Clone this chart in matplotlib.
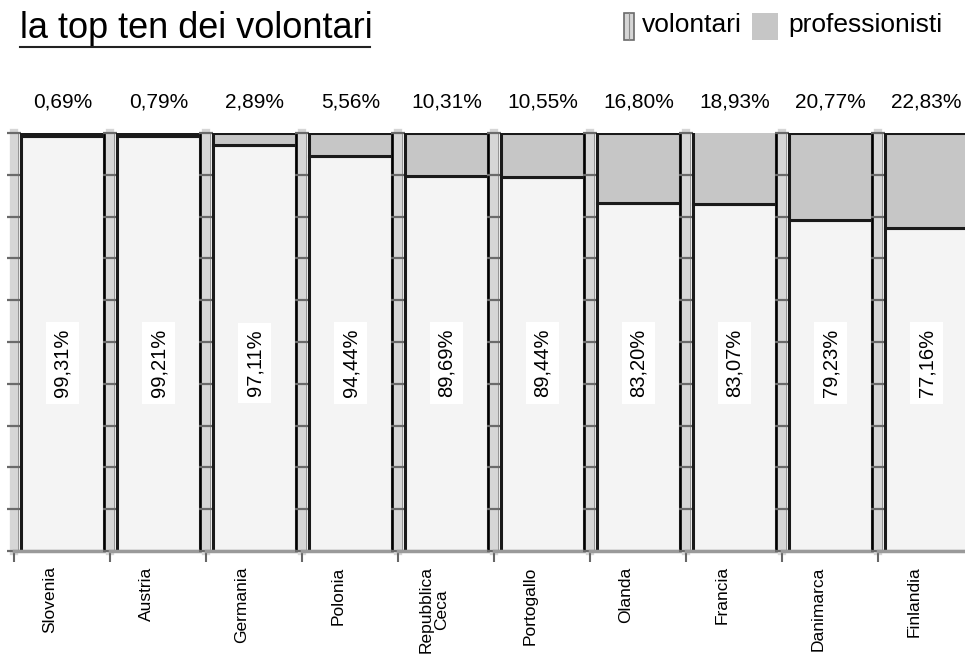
import matplotlib
matplotlib.use('Agg')
import matplotlib.pyplot as plt
from matplotlib.lines import Line2D
from matplotlib.patches import Rectangle

plt.rcParams['font.family'] = ['Liberation Sans', 'DejaVu Sans']

# data
paesi = ['Slovenia', 'Austria', 'Germania', 'Polonia', 'Repubblica\nCeca',
         'Portogallo', 'Olanda', 'Francia', 'Danimarca', 'Finlandia']
volontari = [99.31, 99.21, 97.11, 94.44, 89.69, 89.44, 83.20, 83.07, 79.23, 77.16]
professionisti = [0.69, 0.79, 2.89, 5.56, 10.31, 10.55, 16.80, 18.93, 20.77, 22.83]

def fmt(v):
    return ('%.2f%%' % v).replace('.', ',')

W, H = 965, 664
fig = plt.figure(figsize=(W / 100, H / 100), dpi=100)
fig.patch.set_facecolor('white')

col_vol = '#f4f4f4'
col_pro = '#c6c6c6'
bar_x, bar_w = 7, 83

for i, nome in enumerate(paesi):
    x0 = 14 + i * 96
    ax = fig.add_axes([x0 / W, (H - 551) / H, 96 / W, 418 / H])
    ax.set_xlim(0, 96)
    ax.set_ylim(0, 100)
    ax.set_facecolor('none')

    ax.bar(bar_x, volontari[i], width=bar_w, align='edge', color=col_vol,
           edgecolor='#1a1a1a', linewidth=2.2, zorder=2)
    ax.bar(bar_x, professionisti[i], width=bar_w, bottom=volontari[i], align='edge',
           color=col_pro, edgecolor='#1a1a1a', linewidth=2.2, zorder=2)
    # ombra a destra
    ax.bar(bar_x + bar_w, volontari[i] + professionisti[i], width=4.5, align='edge',
           color='black', linewidth=0, zorder=3)

    ax.text(bar_x + bar_w / 2, 45, fmt(volontari[i]), rotation=90, ha='center',
            va='center', fontsize=14.5, zorder=4,
            bbox=dict(boxstyle='square,pad=0.35', fc='white', ec='none'))
    ax.text(bar_x + bar_w / 2, 107.5, fmt(professionisti[i]), ha='center',
            va='center', fontsize=15, clip_on=False)

    for s in ['top', 'right']:
        ax.spines[s].set_visible(False)
    ax.spines['left'].set_color('#d6d6d6')
    ax.spines['left'].set_linewidth(6)
    ax.spines['left'].set_zorder(1)
    for dx in (-3.5, 3.5):
        ax.axvline(dx, color='#8a8a8a', linewidth=0.9, clip_on=False, zorder=1)
    ax.spines['bottom'].set_color('#9a9a9a')
    ax.spines['bottom'].set_linewidth(2.5)

    ax.set_yticks(range(0, 101, 10))
    ax.set_yticklabels([])
    ax.tick_params(axis='y', direction='inout', length=10, width=1.6, color='#6a6a6a')

    ax.set_xticks([36])
    ax.set_xticklabels([nome], rotation=90, fontsize=12.5, va='top',
                       linespacing=1.0)
    ax.tick_params(axis='x', which='major', length=0, pad=11)
    ax.set_xticks([0], minor=True)
    ax.tick_params(axis='x', which='minor', direction='out', length=8, width=1.5,
                   color='#666666')

# titolo sottolineato
fig.text(20 / W, 1 - 29 / H, 'la top ten dei volontari', fontsize=26,
         va='center', ha='left')
fig.add_artist(Line2D([20 / W, 370 / W], [1 - 47 / H, 1 - 47 / H],
                      color='#222222', linewidth=1.5))

# legenda
fig.add_artist(Rectangle((624 / W, 1 - 40 / H), 10 / W, 27 / H,
                         facecolor='#d6d6d6', edgecolor='#6a6a6a', linewidth=1.2))
fig.add_artist(Line2D([629 / W, 629 / W], [1 - 40 / H, 1 - 13 / H],
                      color='#8a8a8a', linewidth=0.8))
fig.text(642 / W, 1 - 25 / H, 'volontari', fontsize=19, va='center', ha='left')
fig.add_artist(Rectangle((752 / W, 1 - 40 / H), 26 / W, 27 / H,
                         facecolor=col_pro, edgecolor='none'))
fig.text(788 / W, 1 - 25 / H, 'professionisti', fontsize=19, va='center', ha='left')

fig.savefig('out.png', dpi=100)
